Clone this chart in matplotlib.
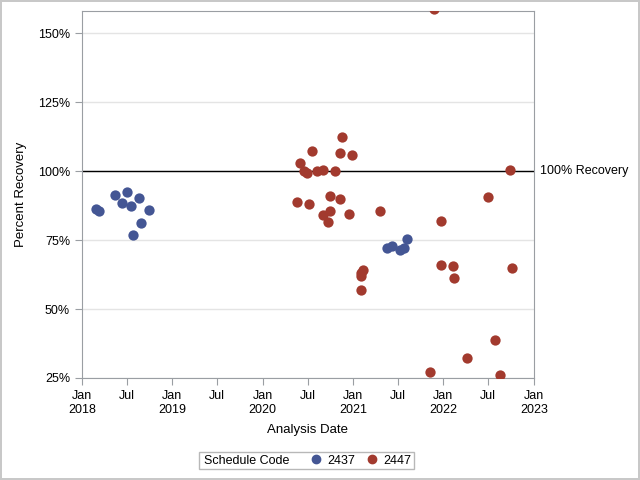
import numpy as np
import pandas as pd
import matplotlib
matplotlib.use("Agg")
import matplotlib.pyplot as plt
from matplotlib.lines import Line2D
from matplotlib.patches import Rectangle

plt.rcParams['font.family'] = ['Liberation Sans', 'DejaVu Sans']

# schedule code 2437
dates_2437 = ["2018-02-26", "2018-03-11", "2018-05-15", "2018-07-02", "2018-06-12",
              "2018-07-19", "2018-08-20", "2018-09-28", "2018-08-27", "2018-07-27",
              "2021-05-18", "2021-06-07", "2021-07-11", "2021-07-24", "2021-08-05"]
rec_2437 = [86.3, 85.4, 91.3, 92.4, 88.3,
            87.2, 90.1, 85.9, 81.2, 76.8,
            72.1, 73.0, 71.5, 72.1, 75.3]

# schedule code 2447
dates_2447 = ["2020-11-19", "2020-07-17", "2020-11-07", "2020-12-26", "2020-06-02",
              "2020-06-17", "2020-06-28", "2020-08-10", "2020-09-03", "2020-10-18",
              "2020-05-21", "2020-07-08", "2020-09-28", "2020-11-07", "2020-09-28",
              "2020-09-03", "2020-09-20", "2020-12-17", "2021-04-18", "2021-02-08",
              "2021-02-02", "2021-02-02", "2021-02-02", "2021-12-21", "2021-12-21",
              "2022-02-07", "2022-02-11", "2021-11-06", "2022-09-25", "2022-07-02",
              "2022-10-04", "2022-07-27", "2022-04-05", "2022-08-19", "2021-11-25"]
rec_2447 = [112.2, 107.1, 106.5, 105.7, 103.1,
            99.9, 99.2, 99.9, 100.5, 99.9,
            88.7, 88.0, 90.9, 89.8, 85.5,
            84.0, 81.5, 84.3, 85.4, 64.2,
            63.0, 61.8, 56.9, 81.9, 65.9,
            65.5, 61.2, 27.2, 100.3, 90.5,
            64.9, 38.8, 32.3, 26.2, 158.6]

codes = ["2437", "2447"]
blue = "#445694"
red = "#A23A2E"
axis_grey = "#9a9ea3"

fig = plt.figure(figsize=(6.4, 4.8), dpi=100)
fig.patch.set_edgecolor("#c8c8c8")
fig.patch.set_linewidth(1.5)
ax = fig.add_axes([0.128, 0.2125, 0.706, 0.7645])

ax.scatter(pd.to_datetime(dates_2437), rec_2437, s=55, color=blue, zorder=3, linewidths=0)
ax.scatter(pd.to_datetime(dates_2447), rec_2447, s=55, color=red, zorder=3, linewidths=0)

ax.axhline(100, color="black", linewidth=1, zorder=2)
ax.text(1.014, 100, "100% Recovery", transform=ax.get_yaxis_transform(),
        va="center", ha="left", fontsize=9)

ax.set_ylim(25, 158)
ax.set_yticks([25, 50, 75, 100, 125, 150])
ax.set_yticklabels(["25%", "50%", "75%", "100%", "125%", "150%"])
ax.yaxis.grid(True, color="#e4e4e4", linewidth=1)
ax.set_axisbelow(True)

ax.set_xlim(pd.Timestamp("2018-01-01"), pd.Timestamp("2023-01-01"))
ticks = pd.date_range("2018-01-01", "2023-01-01", freq="6MS")
ax.set_xticks(ticks)
ax.set_xticklabels([f"Jan\n{t.year}" if t.month == 1 else "Jul" for t in ticks])

for sp in ax.spines.values():
    sp.set_color(axis_grey)
ax.tick_params(colors=axis_grey, labelcolor="black", labelsize=9, length=5)

ax.set_xlabel("Analysis Date", fontsize=9.5, labelpad=6)
ax.set_ylabel("Percent Recovery", fontsize=9.5, labelpad=8)

# legend: inline title + two entries inside one box
fig.patches.append(Rectangle((199 / 640, 1 - 469 / 480), 215 / 640, 17 / 480,
                             transform=fig.transFigure, fill=False,
                             edgecolor="#b8b8b8", linewidth=1))
fig.text(204 / 640, 1 - 460.5 / 480, "Schedule Code", va="center", ha="left", fontsize=9)
handles = [Line2D([], [], linestyle="none", marker="o", color=blue, markersize=6),
           Line2D([], [], linestyle="none", marker="o", color=red, markersize=6)]
fig.legend(handles, codes, loc="center left",
           bbox_to_anchor=(310 / 640, 1 - 460.5 / 480), ncol=2, fontsize=9,
           frameon=False, handlelength=1.0, handletextpad=0.4, columnspacing=0.8,
           borderpad=0, borderaxespad=0)

fig.savefig("out.png", dpi=100, edgecolor=fig.get_edgecolor())
